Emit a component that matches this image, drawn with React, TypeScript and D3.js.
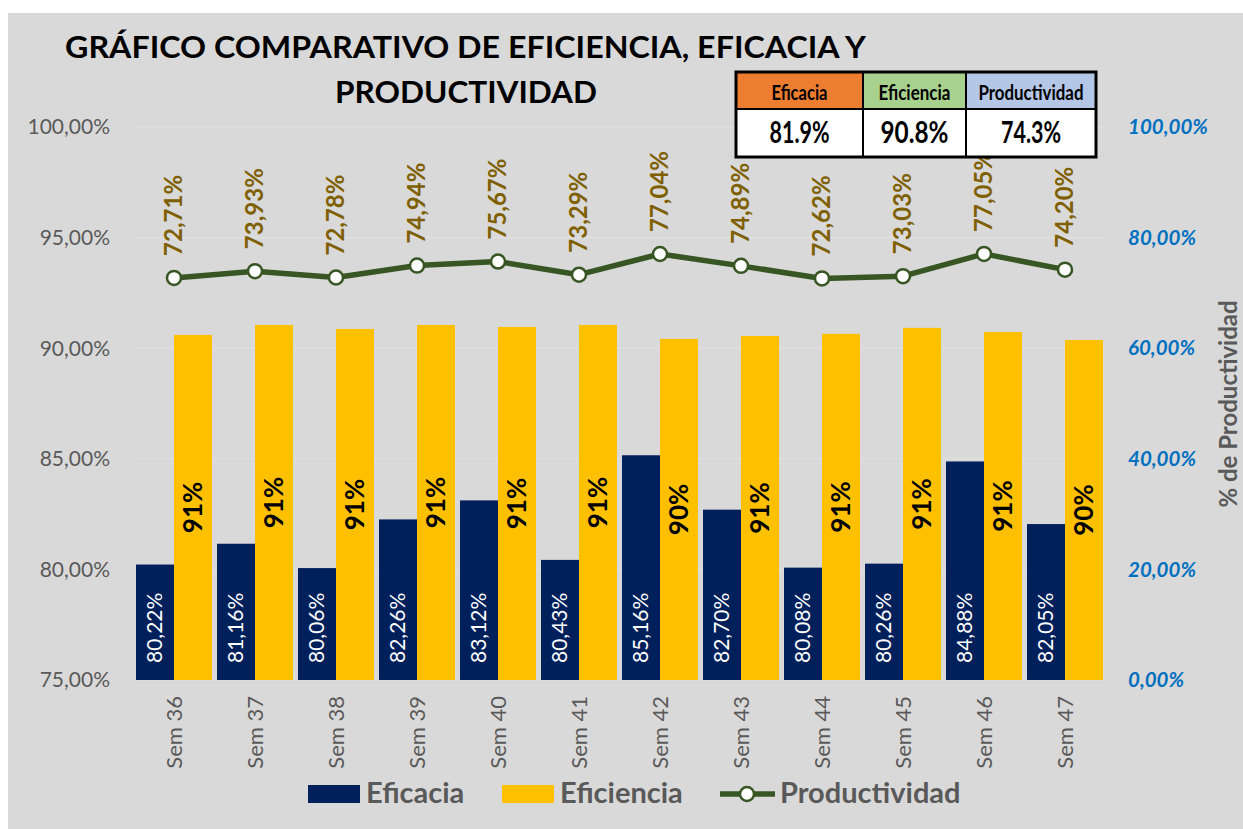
import React from 'react';
import * as d3 from 'd3';

// Datos semanales
const weeks = ['Sem 36', 'Sem 37', 'Sem 38', 'Sem 39', 'Sem 40', 'Sem 41', 'Sem 42', 'Sem 43', 'Sem 44', 'Sem 45', 'Sem 46', 'Sem 47'];
const eficacia = [80.22, 81.16, 80.06, 82.26, 83.12, 80.43, 85.16, 82.70, 80.08, 80.26, 84.88, 82.05];
const eficiencia = [90.6, 91.05, 90.87, 91.05, 90.96, 91.05, 90.42, 90.55, 90.65, 90.92, 90.73, 90.37];
const productividad = [72.71, 73.93, 72.78, 74.94, 75.67, 73.29, 77.04, 74.89, 72.62, 73.03, 77.05, 74.20];

const leftTicks = [75, 80, 85, 90, 95, 100];
const rightTicks = [0, 20, 40, 60, 80, 100];

// Tabla resumen
const summaryLabels = ['Eficacia', 'Eficiencia', 'Productividad'];
const summaryValues = ['81.9%', '90.8%', '74.3%'];

const W = 1243;
const H = 829;
const FONT = 'Lato, "Open Sans", sans-serif';
const GREY = '#595959';
const NAVY = '#00205B';
const GOLD = '#FFC000';
const GREEN = '#375623';
const OLIVE = '#7F6000';

const locale = d3.formatLocale({ decimal: ',', thousands: '.', grouping: [3], currency: ['', ''] });
const fmt2 = locale.format('.2f');
const pct2 = (v: number) => `${fmt2(v)}%`;

export default function App() {
  const margin = { left: 133.5, right: 1105.5, top: 127, bottom: 680 };

  const x0 = d3.scaleBand<string>()
    .domain(weeks)
    .range([margin.left, margin.right])
    .paddingInner(5 / 81)
    .paddingOuter(2.5 / 81);
  const x1 = d3.scaleBand<string>()
    .domain(['Eficacia', 'Eficiencia'])
    .range([0, x0.bandwidth()]);

  const yLeft = d3.scaleLinear().domain([75, 100]).range([margin.bottom, margin.top]);
  const yRight = d3.scaleLinear().domain([0, 100]).range([margin.bottom, margin.top]);

  const center = (w: string) => (x0(w) ?? 0) + x0.bandwidth() / 2;

  const line = d3.line<number>()
    .x((_, i) => center(weeks[i]))
    .y(d => yRight(d));

  // table layout
  const tblX = [736, 863, 966, 1096];
  const tblY = [72, 109, 157];
  const tblColors = ['#ED7D31', '#A9D18E', '#B4C7E7'];
  const headLen = [56, 72, 105];
  const valLen = [60, 68, 60];

  return (
    <svg width={W} height={H} style={{ position: 'absolute', left: 0, top: 0 }} fontFamily={FONT}>
      <rect x={0} y={0} width={W} height={H} fill="#ffffff" />
      <rect x={8} y={13} width={W - 8} height={H - 13} fill="#D9D9D9" />

      {/* grid */}
      {leftTicks.map(t => (
        <line key={t} x1={margin.left} x2={margin.right} y1={yLeft(t)} y2={yLeft(t)} stroke="#E2E2E2" strokeWidth={1} />
      ))}

      {/* title */}
      <text x={465.5} y={58} textAnchor="middle" fontSize={31} fontWeight={700} fill="#000" textLength={801} lengthAdjust="spacingAndGlyphs">
        GRÁFICO COMPARATIVO DE EFICIENCIA, EFICACIA Y
      </text>
      <text x={466} y={103} textAnchor="middle" fontSize={31} fontWeight={700} fill="#000" textLength={262} lengthAdjust="spacingAndGlyphs">
        PRODUCTIVIDAD
      </text>

      {/* left axis */}
      {leftTicks.map(t => (
        <text key={t} x={110} y={yLeft(t)} dy="0.35em" textAnchor="end" fontSize={21} fill={GREY}>
          {pct2(t)}
        </text>
      ))}

      {/* right axis */}
      {rightTicks.map(t => (
        <text key={t} x={1128} y={yRight(t)} dy="0.35em" textAnchor="start" fontSize={20.5} fontWeight={700} fontStyle="italic" fill="#0070C0">
          {pct2(t)}
        </text>
      ))}
      <text transform={`translate(1229,404) rotate(-90)`} dy="0.35em" textAnchor="middle" fontSize={24} fontWeight={700} fill={GREY}>
        % de Productividad
      </text>

      {/* bars */}
      {weeks.map((w, i) => {
        const bx = x0(w) ?? 0;
        const xa = bx + (x1('Eficacia') ?? 0);
        const xb = bx + (x1('Eficiencia') ?? 0);
        const bw = x1.bandwidth();
        const ya = yLeft(eficacia[i]);
        const yb = yLeft(eficiencia[i]);
        return (
          <g key={w}>
            <rect x={xa} y={ya} width={bw} height={margin.bottom - ya} fill={NAVY} />
            <rect x={xb} y={yb} width={bw} height={margin.bottom - yb} fill={GOLD} />
            <text transform={`translate(${xa + bw / 2},${margin.bottom - 17}) rotate(-90)`} dy="0.35em" textAnchor="start" fontSize={21} fill="#ffffff">
              {pct2(eficacia[i])}
            </text>
            <text transform={`translate(${xb + bw / 2},${(yb + margin.bottom) / 2}) rotate(-90)`} dy="0.35em" textAnchor="middle" fontSize={26} fontWeight={700} fill="#000">
              {`${d3.format('.0f')(eficiencia[i])}%`}
            </text>
            <text transform={`translate(${center(w)},696) rotate(-90)`} dy="0.35em" textAnchor="end" fontSize={22} fill={GREY}>
              {w}
            </text>
          </g>
        );
      })}

      {/* productividad line */}
      <path d={line(productividad) ?? ''} fill="none" stroke={GREEN} strokeWidth={5.5} strokeLinejoin="round" />
      {productividad.map((p, i) => (
        <g key={weeks[i]}>
          <circle cx={center(weeks[i])} cy={yRight(p)} r={7} fill="#ffffff" stroke={GREEN} strokeWidth={2.5} />
          <text transform={`translate(${center(weeks[i])},${yRight(p) - 22}) rotate(-90)`} dy="0.35em" textAnchor="start" fontSize={24} fontWeight={700} fill={OLIVE}>
            {pct2(p)}
          </text>
        </g>
      ))}

      {/* summary table */}
      <g>
        {summaryLabels.map((lab, i) => (
          <g key={lab}>
            <rect x={tblX[i]} y={tblY[0]} width={tblX[i + 1] - tblX[i]} height={tblY[1] - tblY[0]} fill={tblColors[i]} />
            <rect x={tblX[i]} y={tblY[1]} width={tblX[i + 1] - tblX[i]} height={tblY[2] - tblY[1]} fill="#ffffff" />
            <text x={(tblX[i] + tblX[i + 1]) / 2} y={100} textAnchor="middle" fontSize={20} fontWeight={700} fill="#000" textLength={headLen[i]} lengthAdjust="spacingAndGlyphs">
              {lab}
            </text>
            <text x={(tblX[i] + tblX[i + 1]) / 2} y={143} textAnchor="middle" fontSize={30} fontWeight={700} fill="#000" textLength={valLen[i]} lengthAdjust="spacingAndGlyphs">
              {summaryValues[i]}
            </text>
          </g>
        ))}
        <line x1={tblX[0]} x2={tblX[3]} y1={tblY[1]} y2={tblY[1]} stroke="#000" strokeWidth={2} />
        <line x1={tblX[1]} x2={tblX[1]} y1={tblY[0]} y2={tblY[2]} stroke="#000" strokeWidth={2} />
        <line x1={tblX[2]} x2={tblX[2]} y1={tblY[0]} y2={tblY[2]} stroke="#000" strokeWidth={2} />
        <rect x={tblX[0]} y={tblY[0]} width={tblX[3] - tblX[0]} height={tblY[2] - tblY[0]} fill="none" stroke="#000" strokeWidth={3} />
      </g>

      {/* legend */}
      <g fontSize={29} fontWeight={700} fill={GREY}>
        <rect x={308} y={785} width={52} height={18} fill={NAVY} />
        <text x={366} y={803}>Eficacia</text>
        <rect x={502} y={785} width={52} height={18} fill={GOLD} />
        <text x={560} y={803}>Eficiencia</text>
        <line x1={720} x2={775} y1={794} y2={794} stroke={GREEN} strokeWidth={5.5} />
        <circle cx={747} cy={794} r={7} fill="#ffffff" stroke={GREEN} strokeWidth={2.5} />
        <text x={780} y={803}>Productividad</text>
      </g>
    </svg>
  );
}
